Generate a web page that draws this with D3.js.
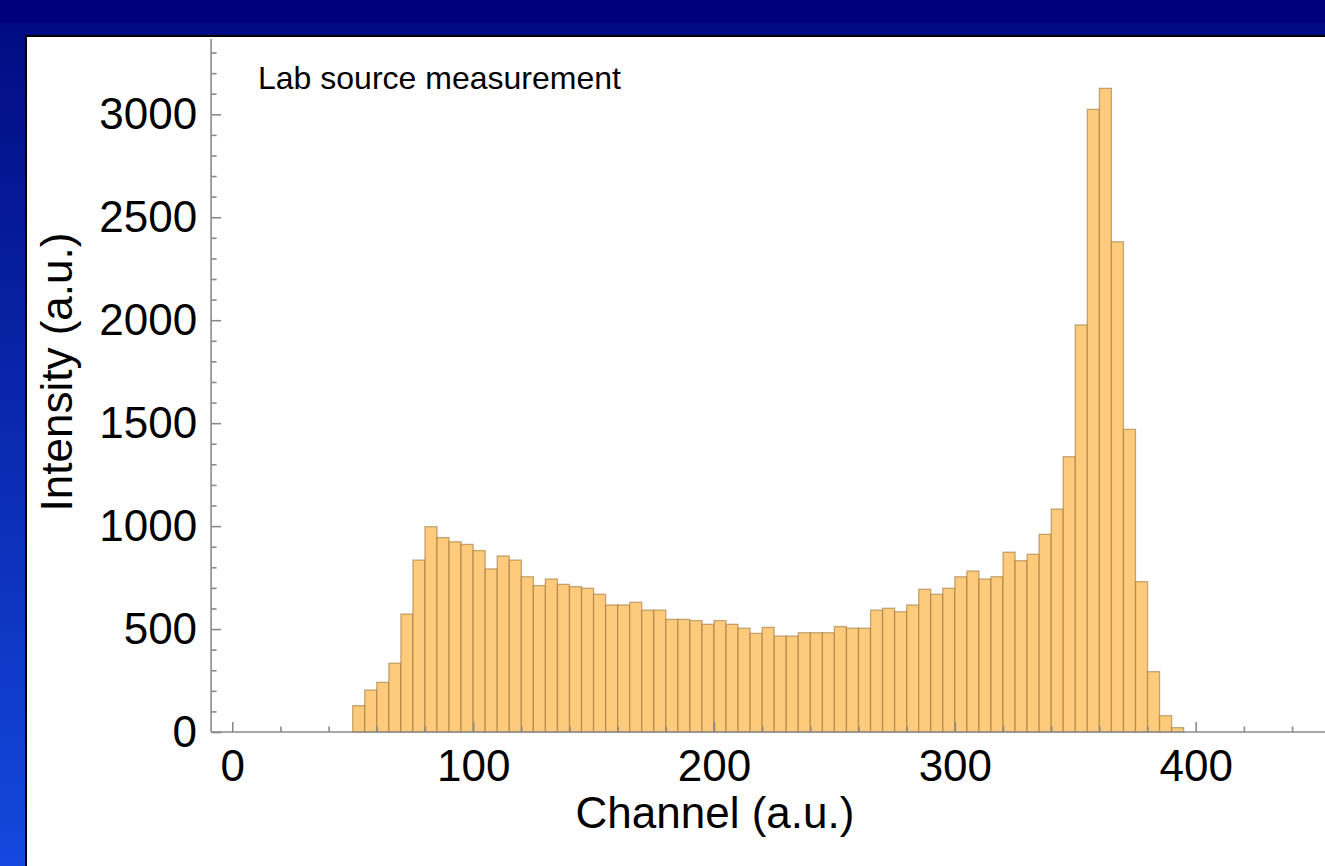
<!DOCTYPE html>
<html>
<head>
<meta charset="utf-8">
<script src="https://cdn.jsdelivr.net/npm/d3@7"></script>
<style>
  html, body { margin: 0; padding: 0; background: #000080; }
  svg { display: block; }
  text { font-family: Arial, "Liberation Sans", sans-serif; }
</style>
</head>
<body>
<svg id="chart" width="1325" height="866"></svg>
<script>
// ---- data ----
const binStarts = [50,55,60,65,70,75,80,85,90,95,100,105,110,115,120,125,130,135,140,145,
  150,155,160,165,170,175,180,185,190,195,200,205,210,215,220,225,230,235,240,245,
  250,255,260,265,270,275,280,285,290,295,300,305,310,315,320,325,330,335,340,345,
  350,355,360,365,370,375,380,385,390];
const binWidth = 5;
const counts = [128,204,241,334,573,835,997,944,924,911,881,792,855,835,754,711,743,717,706,698,
  669,617,617,630,592,592,547,547,541,523,541,523,504,479,508,466,466,482,482,482,
  512,504,504,592,601,584,617,693,669,698,754,782,743,754,873,832,863,960,1083,1337,
  1977,3024,3126,2381,1470,730,293,79,21];
const xMajorTicks = [0,100,200,300,400];
const xMinorTicks = [20,40,60,80,120,140,160,180,220,240,260,280,320,340,360,380,420,440];
const yMajorTicks = [0,500,1000,1500,2000,2500,3000];
const yMinorTicks = [100,200,300,400,600,700,800,900,1100,1200,1300,1400,1600,1700,1800,1900,
  2100,2200,2300,2400,2600,2700,2800,2900,3100,3200,3300];
const xTitle = "Channel (a.u.)";
const yTitle = "Intensity (a.u.)";
const noteText = "Lab source measurement";

// ---- layout ----
const W = 1325, H = 866;
const svg = d3.select("#chart");
const defs = svg.append("defs");
const grad = defs.append("linearGradient").attr("id", "bg").attr("x1", 0).attr("y1", 0).attr("x2", 0).attr("y2", 1);
grad.append("stop").attr("offset", "0%").attr("stop-color", "#000a80");
grad.append("stop").attr("offset", "100%").attr("stop-color", "#1448de");

svg.append("rect").attr("x", 0).attr("y", 0).attr("width", W).attr("height", H).attr("fill", "url(#bg)");
svg.append("rect").attr("x", 0).attr("y", 0).attr("width", W).attr("height", 23).attr("fill", "#00007c");

// white panel
svg.append("rect").attr("x", 26).attr("y", 36).attr("width", W + 10).attr("height", H + 10)
  .attr("fill", "#ffffff").attr("stroke", "#000").attr("stroke-width", 2);

const x = d3.scaleLinear().domain([0, 400]).range([232.3, 1195.7]);
const y = d3.scaleLinear().domain([0, 3000]).range([732, 114.3]);

// bars
svg.append("g").selectAll("rect").data(binStarts).join("rect")
  .attr("x", (d) => x(d))
  .attr("width", (d) => x(d + binWidth) - x(d))
  .attr("y", (d, i) => y(counts[i]))
  .attr("height", (d, i) => y(0) - y(counts[i]))
  .attr("fill", "#fdcb7b")
  .attr("stroke", "rgba(150,110,50,0.55)")
  .attr("stroke-width", 1.3);

const axisColor = "#8a8a8a";

// axis lines
svg.append("line").attr("x1", x(-8.8)).attr("x2", W).attr("y1", y(0)).attr("y2", y(0))
  .attr("stroke", axisColor).attr("stroke-width", 1.6);
svg.append("line").attr("x1", x(-8.8)).attr("x2", x(-8.8)).attr("y1", y(0)).attr("y2", y(3366))
  .attr("stroke", axisColor).attr("stroke-width", 1.6);

function styleAxis(g) {
  g.select(".domain").remove();
  g.selectAll(".tick line").attr("stroke", axisColor).attr("stroke-width", 1.6);
  g.selectAll(".tick text").attr("fill", "#000").attr("font-size", 44)
    .attr("font-family", "Arial, 'Liberation Sans', sans-serif");
}

// x axis
svg.append("g").attr("transform", `translate(0,${y(0)})`)
  .call(d3.axisBottom(x).tickValues(xMajorTicks).tickFormat(d3.format("d")).tickSize(-10).tickPadding(18))
  .call(styleAxis);
svg.append("g").attr("transform", `translate(0,${y(0)})`)
  .call(d3.axisBottom(x).tickValues(xMinorTicks).tickFormat("").tickSize(-5.5))
  .call(styleAxis);

// y axis
const yAxisX = x(-8.8);
svg.append("g").attr("transform", `translate(${yAxisX},0)`)
  .call(d3.axisLeft(y).tickValues(yMajorTicks).tickFormat(d3.format("d")).tickSize(-10).tickPadding(14))
  .call(styleAxis);
svg.append("g").attr("transform", `translate(${yAxisX},0)`)
  .call(d3.axisLeft(y).tickValues(yMinorTicks).tickFormat("").tickSize(-5.5))
  .call(styleAxis);

// titles
svg.append("text").attr("x", 715).attr("y", 828).attr("text-anchor", "middle")
  .attr("font-size", 44).attr("fill", "#000").text(xTitle);
svg.append("text").attr("transform", "translate(72,372) rotate(-90)").attr("text-anchor", "middle")
  .attr("font-size", 44).attr("fill", "#000").text(yTitle);

// annotation
svg.append("text").attr("x", 258).attr("y", 89).attr("font-size", 32).attr("fill", "#000").text(noteText);
</script>
</body>
</html>
